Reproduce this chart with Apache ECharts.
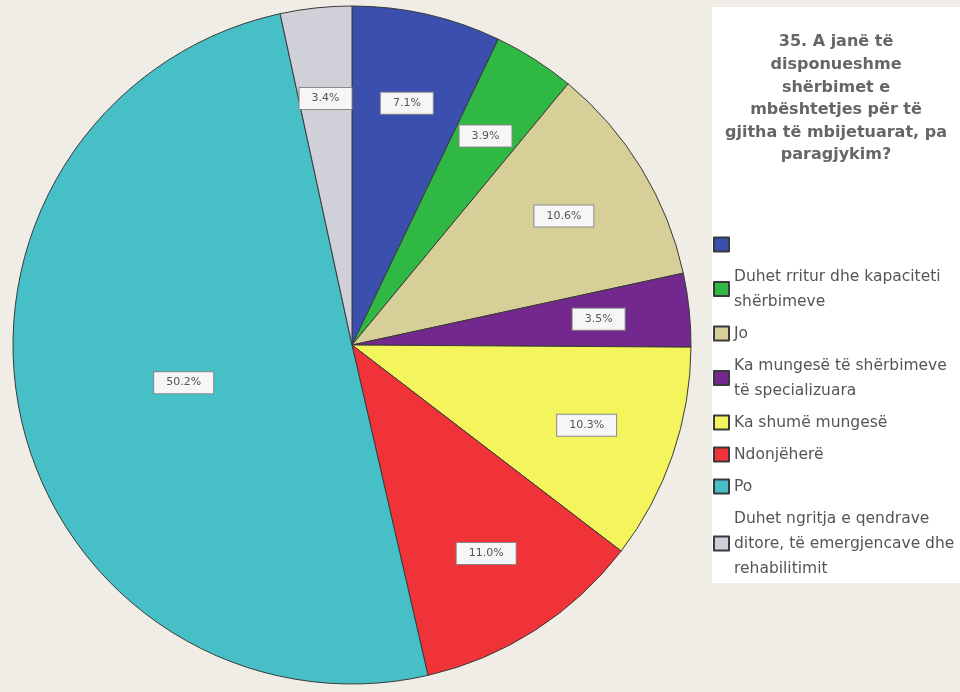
<!DOCTYPE html>
<html><head><meta charset="utf-8">
<script src="https://cdn.jsdelivr.net/npm/echarts@6/dist/echarts.min.js"></script>
<style>html,body{margin:0;padding:0;background:#f0ede6}#c{width:960px;height:692px}</style>
</head><body><div id="c"></div><script>
const titleText = "35. A janë të\ndisponueshme\nshërbimet e\nmbështetjes për të\ngjitha të mbijetuarat, pa\nparagjykim?";
const categories = [
  " ",
  "Duhet rritur dhe kapaciteti\nshërbimeve",
  "Jo",
  "Ka mungesë të shërbimeve\ntë specializuara",
  "Ka shumë mungesë",
  "Ndonjëherë",
  "Po",
  "Duhet ngritja e qendrave\nditore, të emergjencave dhe\nrehabilitimit"
];
const values = [7.1, 3.9, 10.6, 3.5, 10.3, 11.0, 50.2, 3.4];
const colors = ["#3a4fae", "#2fb844", "#d6cf98", "#72288c", "#f4f45c", "#ef3338", "#46bfc7", "#cfd0d8"];

const FONT = "DejaVu Sans";
const labelBox = {
  color: "#555", fontSize: 11, fontFamily: FONT,
  backgroundColor: "#f6f6f6", borderColor: "#8a8a8a", borderWidth: 1,
  padding: [5, 12]
};
const fmt = p => p.value.toFixed(1) + "%";
const BIG = 6; // index of the half-pie slice whose label sits nearer the centre

const chart = echarts.init(document.getElementById("c"), null, {renderer: "canvas"});
chart.setOption({
  backgroundColor: "#f0ede6",
  animation: false,
  color: colors,
  graphic: [
    {type: "rect", left: 712, top: 7, shape: {width: 248, height: 576}, style: {fill: "#ffffff"}, z: 0},
    {type: "text", x: 836, y: 31, z: 5, style: {
      text: titleText, align: "center", verticalAlign: "top",
      fontSize: 16, fontWeight: "bold", lineHeight: 22.6, fontFamily: FONT, fill: "#666"
    }}
  ],
  legend: {
    orient: "vertical", left: 713, top: 232, padding: 0,
    itemWidth: 15, itemHeight: 14, itemGap: 7, icon: "rect",
    data: categories,
    textStyle: {fontSize: 15.5, lineHeight: 25, fontFamily: FONT, color: "#555"},
    selectedMode: false, z: 6
  },
  series: [
    {
      type: "pie", center: [352, 345], radius: [0, 339], startAngle: 90, clockwise: true,
      silent: true, avoidLabelOverlap: false,
      itemStyle: {borderColor: "#3a3a3a", borderWidth: 1},
      label: Object.assign({show: false, position: "inside", formatter: fmt}, labelBox),
      labelLine: {show: false},
      data: categories.map((n, i) => ({
        name: n, value: values[i],
        label: {show: i === BIG}
      }))
    },
    {
      type: "pie", center: [352, 345], radius: [0, 490], startAngle: 90, clockwise: true,
      silent: true, avoidLabelOverlap: false, legendHoverLink: false,
      itemStyle: {color: "rgba(0,0,0,0)", borderWidth: 0},
      label: Object.assign({show: true, position: "inside", formatter: fmt}, labelBox),
      labelLine: {show: false},
      data: categories.map((n, i) => ({
        name: n, value: values[i],
        label: {show: i !== BIG}
      }))
    }
  ]
});
</script></body></html>
